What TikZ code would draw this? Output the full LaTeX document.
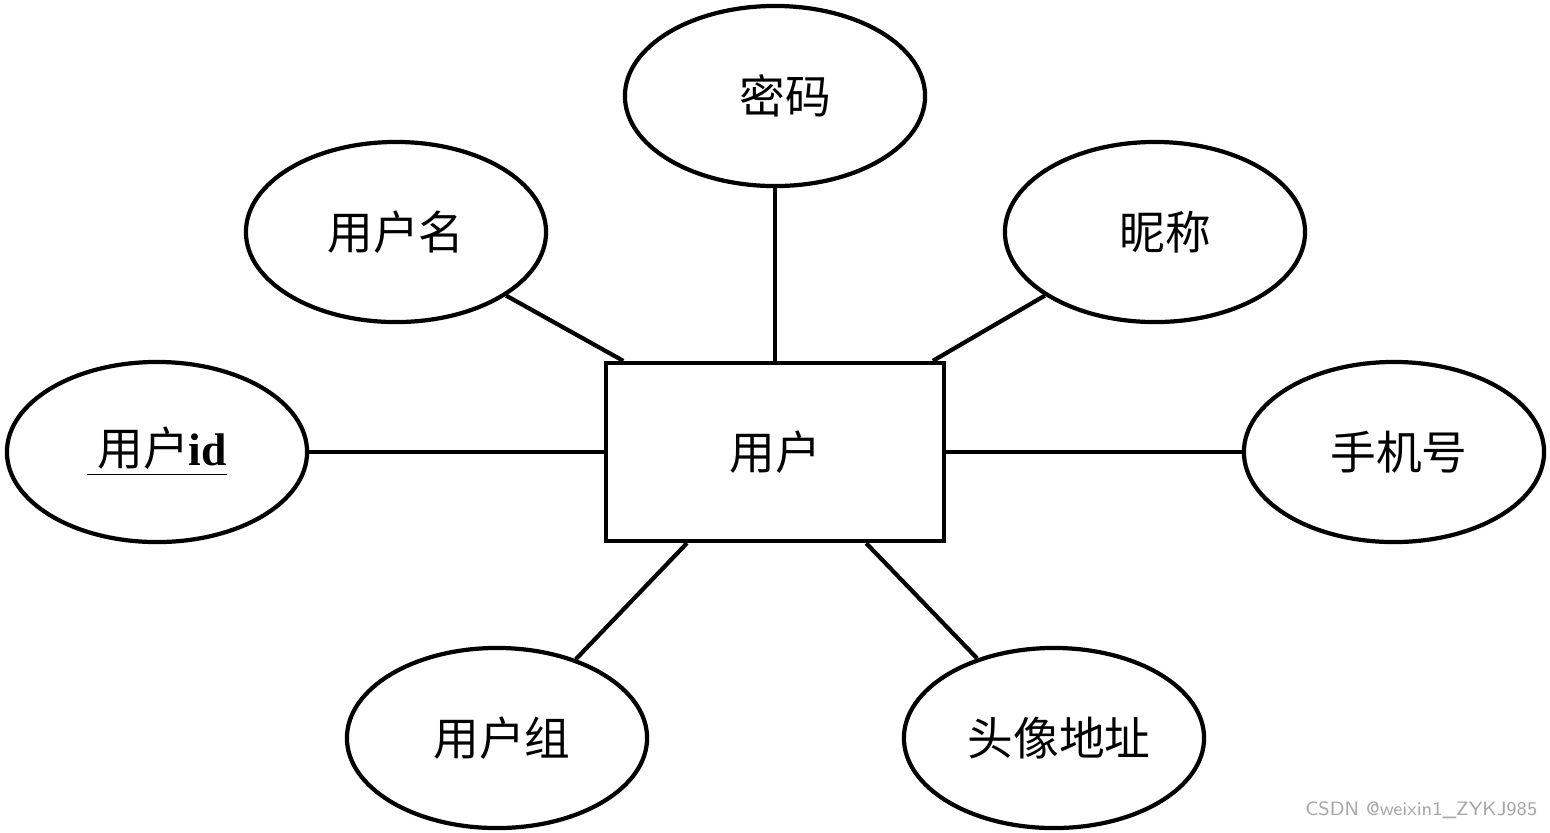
\documentclass[tikz,border=0pt]{standalone}
\usepackage{fontspec}
\setmainfont{Liberation Serif}
\newfontfamily\cjk{Noto Sans CJK SC}
\usetikzlibrary{shapes.geometric}
\begin{document}
\begin{tikzpicture}[x=0.01cm,y=-0.01cm,
 attr/.style={ellipse,draw,line width=1.2pt,minimum width=3cm,minimum height=1.8cm,inner sep=0pt,font=\fontsize{13}{15}\selectfont\cjk},
 ent/.style={rectangle,draw,line width=1.2pt,minimum width=3.38cm,minimum height=1.78cm,font=\fontsize{13}{15}\selectfont\cjk},
 conn/.style={line width=1.2pt}]
\useasboundingbox (0,0) rectangle (1550,832);
\node[ent] (u) at (775,452) {用户};
\node[attr] (pw) at (775,96) {\hspace*{0.2cm}密码};
\node[attr] (un) at (396,232) {用户名};
\node[attr] (nick) at (1155,232) {\hspace*{0.2cm}昵称};
\node[attr] (id) at (157,452) {\underline{\ 用户{\rmfamily\bfseries id}}};
\node[attr] (ph) at (1394,452) {\hspace*{0.1cm}手机号};
\node[attr] (grp) at (497,738) {\hspace*{0.1cm}用户组};
\node[attr] (av) at (1054,738) {\hspace*{0.1cm}头像地址};
\draw[conn] (pw.south) -- (u.north);
\draw[conn] (id.east) -- (u.west);
\draw[conn] (u.east) -- (ph.west);
\draw[conn] (un.-30) -- (u.149.5);
\draw[conn] (nick.210) -- (u.30.1);
\draw[conn] (grp.45.7) -- (u.226.3);
\draw[conn] (av.134.6) -- (u.-45.3);
\node[anchor=south east,text=gray!70,font=\fontsize{5.5}{6}\selectfont\sffamily,inner sep=2pt] (wm) at (1545,826) {CSDN @weixin1\_ZYKJ985};
\end{tikzpicture}
\end{document}
